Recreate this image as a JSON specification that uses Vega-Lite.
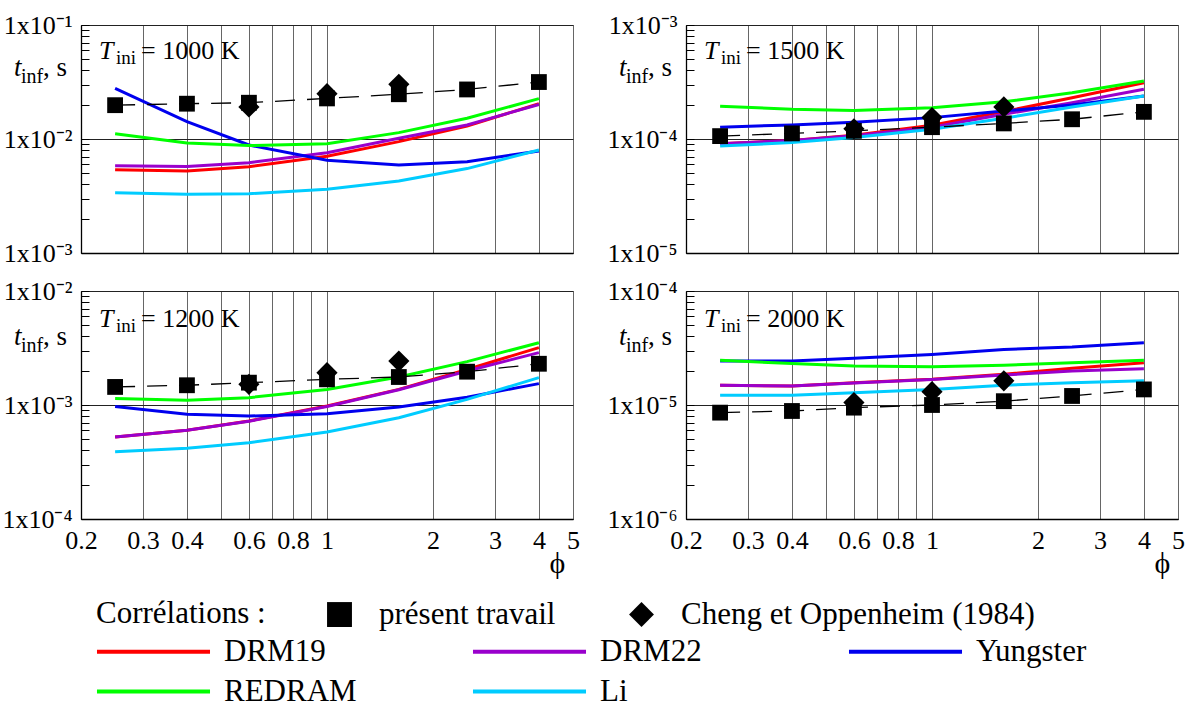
{
  "$schema": "https://vega.github.io/schema/vega-lite/v6.json",
  "background": "white",
  "padding": {"left": 1, "top": 11, "right": 0, "bottom": 0},
  "config": {
    "font": "Liberation Serif",
    "view": {"stroke": "#777", "strokeWidth": 1},
    "axis": {"labelFont": "Liberation Serif", "titleFont": "Liberation Serif", "labelColor": "black", "titleColor": "black"},
    "legend": {"labelFont": "Liberation Serif", "titleFont": "Liberation Serif", "labelColor": "black", "titleColor": "black", "padding": 0, "offset": 0}
  },
  "datasets": {
    "curves": [
      {"T":1000,"model":"DRM19","phi":0.25,"t":0.00538},{"T":1000,"model":"DRM19","phi":0.4,"t":0.00524},{"T":1000,"model":"DRM19","phi":0.6,"t":0.00572},{"T":1000,"model":"DRM19","phi":1,"t":0.00705},{"T":1000,"model":"DRM19","phi":1.6,"t":0.00948},{"T":1000,"model":"DRM19","phi":2.5,"t":0.0130},{"T":1000,"model":"DRM19","phi":4,"t":0.0204},
      {"T":1000,"model":"DRM22","phi":0.25,"t":0.00583},{"T":1000,"model":"DRM22","phi":0.4,"t":0.00575},{"T":1000,"model":"DRM22","phi":0.6,"t":0.0062},{"T":1000,"model":"DRM22","phi":1,"t":0.00759},{"T":1000,"model":"DRM22","phi":1.6,"t":0.01014},{"T":1000,"model":"DRM22","phi":2.5,"t":0.01327},{"T":1000,"model":"DRM22","phi":4,"t":0.0201},
      {"T":1000,"model":"Yungster","phi":0.25,"t":0.0278},{"T":1000,"model":"Yungster","phi":0.4,"t":0.0142},{"T":1000,"model":"Yungster","phi":0.6,"t":0.00886},{"T":1000,"model":"Yungster","phi":1,"t":0.0065},{"T":1000,"model":"Yungster","phi":1.6,"t":0.00591},{"T":1000,"model":"Yungster","phi":2.5,"t":0.00632},{"T":1000,"model":"Yungster","phi":4,"t":0.00785},
      {"T":1000,"model":"REDRAM","phi":0.25,"t":0.01114},{"T":1000,"model":"REDRAM","phi":0.4,"t":0.00923},{"T":1000,"model":"REDRAM","phi":0.6,"t":0.00875},{"T":1000,"model":"REDRAM","phi":1,"t":0.0091},{"T":1000,"model":"REDRAM","phi":1.6,"t":0.01137},{"T":1000,"model":"REDRAM","phi":2.5,"t":0.0152},{"T":1000,"model":"REDRAM","phi":4,"t":0.0226},
      {"T":1000,"model":"Li","phi":0.25,"t":0.00338},{"T":1000,"model":"Li","phi":0.4,"t":0.00327},{"T":1000,"model":"Li","phi":0.6,"t":0.00331},{"T":1000,"model":"Li","phi":1,"t":0.00362},{"T":1000,"model":"Li","phi":1.6,"t":0.00428},{"T":1000,"model":"Li","phi":2.5,"t":0.0055},{"T":1000,"model":"Li","phi":4,"t":0.0080},

      {"T":1500,"model":"DRM19","phi":0.25,"t":9.1e-5},{"T":1500,"model":"DRM19","phi":0.4,"t":9.7e-5},{"T":1500,"model":"DRM19","phi":0.6,"t":1.08e-4},{"T":1500,"model":"DRM19","phi":1,"t":1.32e-4},{"T":1500,"model":"DRM19","phi":1.6,"t":1.74e-4},{"T":1500,"model":"DRM19","phi":2.5,"t":2.30e-4},{"T":1500,"model":"DRM19","phi":4,"t":3.12e-4},
      {"T":1500,"model":"DRM22","phi":0.25,"t":9.1e-5},{"T":1500,"model":"DRM22","phi":0.4,"t":9.7e-5},{"T":1500,"model":"DRM22","phi":0.6,"t":1.07e-4},{"T":1500,"model":"DRM22","phi":1,"t":1.27e-4},{"T":1500,"model":"DRM22","phi":1.6,"t":1.65e-4},{"T":1500,"model":"DRM22","phi":2.5,"t":2.08e-4},{"T":1500,"model":"DRM22","phi":4,"t":2.73e-4},
      {"T":1500,"model":"Yungster","phi":0.25,"t":1.27e-4},{"T":1500,"model":"Yungster","phi":0.4,"t":1.33e-4},{"T":1500,"model":"Yungster","phi":0.6,"t":1.40e-4},{"T":1500,"model":"Yungster","phi":1,"t":1.54e-4},{"T":1500,"model":"Yungster","phi":1.6,"t":1.76e-4},{"T":1500,"model":"Yungster","phi":2.5,"t":1.99e-4},{"T":1500,"model":"Yungster","phi":4,"t":2.38e-4},
      {"T":1500,"model":"REDRAM","phi":0.25,"t":1.94e-4},{"T":1500,"model":"REDRAM","phi":0.4,"t":1.82e-4},{"T":1500,"model":"REDRAM","phi":0.6,"t":1.78e-4},{"T":1500,"model":"REDRAM","phi":1,"t":1.88e-4},{"T":1500,"model":"REDRAM","phi":1.6,"t":2.12e-4},{"T":1500,"model":"REDRAM","phi":2.5,"t":2.55e-4},{"T":1500,"model":"REDRAM","phi":4,"t":3.23e-4},
      {"T":1500,"model":"Li","phi":0.25,"t":8.7e-5},{"T":1500,"model":"Li","phi":0.4,"t":9.3e-5},{"T":1500,"model":"Li","phi":0.6,"t":1.03e-4},{"T":1500,"model":"Li","phi":1,"t":1.22e-4},{"T":1500,"model":"Li","phi":1.6,"t":1.52e-4},{"T":1500,"model":"Li","phi":2.5,"t":1.91e-4},{"T":1500,"model":"Li","phi":4,"t":2.38e-4},

      {"T":1200,"model":"DRM19","phi":0.25,"t":5.24e-4},{"T":1200,"model":"DRM19","phi":0.4,"t":6.0e-4},{"T":1200,"model":"DRM19","phi":0.6,"t":7.24e-4},{"T":1200,"model":"DRM19","phi":1,"t":9.8e-4},{"T":1200,"model":"DRM19","phi":1.6,"t":1.37e-3},{"T":1200,"model":"DRM19","phi":2.5,"t":2.05e-3},{"T":1200,"model":"DRM19","phi":4,"t":3.19e-3},
      {"T":1200,"model":"DRM22","phi":0.25,"t":5.24e-4},{"T":1200,"model":"DRM22","phi":0.4,"t":6.0e-4},{"T":1200,"model":"DRM22","phi":0.6,"t":7.2e-4},{"T":1200,"model":"DRM22","phi":1,"t":9.7e-4},{"T":1200,"model":"DRM22","phi":1.6,"t":1.36e-3},{"T":1200,"model":"DRM22","phi":2.5,"t":1.99e-3},{"T":1200,"model":"DRM22","phi":4,"t":2.88e-3},
      {"T":1200,"model":"Yungster","phi":0.25,"t":9.7e-4},{"T":1200,"model":"Yungster","phi":0.4,"t":8.3e-4},{"T":1200,"model":"Yungster","phi":0.6,"t":8.0e-4},{"T":1200,"model":"Yungster","phi":1,"t":8.4e-4},{"T":1200,"model":"Yungster","phi":1.6,"t":9.6e-4},{"T":1200,"model":"Yungster","phi":2.5,"t":1.17e-3},{"T":1200,"model":"Yungster","phi":4,"t":1.54e-3},
      {"T":1200,"model":"REDRAM","phi":0.25,"t":1.14e-3},{"T":1200,"model":"REDRAM","phi":0.4,"t":1.10e-3},{"T":1200,"model":"REDRAM","phi":0.6,"t":1.16e-3},{"T":1200,"model":"REDRAM","phi":1,"t":1.37e-3},{"T":1200,"model":"REDRAM","phi":1.6,"t":1.76e-3},{"T":1200,"model":"REDRAM","phi":2.5,"t":2.40e-3},{"T":1200,"model":"REDRAM","phi":4,"t":3.52e-3},
      {"T":1200,"model":"Li","phi":0.25,"t":3.89e-4},{"T":1200,"model":"Li","phi":0.4,"t":4.17e-4},{"T":1200,"model":"Li","phi":0.6,"t":4.67e-4},{"T":1200,"model":"Li","phi":1,"t":5.79e-4},{"T":1200,"model":"Li","phi":1.6,"t":7.74e-4},{"T":1200,"model":"Li","phi":2.5,"t":1.12e-3},{"T":1200,"model":"Li","phi":4,"t":1.74e-3},

      {"T":2000,"model":"DRM19","phi":0.25,"t":1.49e-5},{"T":2000,"model":"DRM19","phi":0.4,"t":1.47e-5},{"T":2000,"model":"DRM19","phi":0.6,"t":1.57e-5},{"T":2000,"model":"DRM19","phi":1,"t":1.68e-5},{"T":2000,"model":"DRM19","phi":1.6,"t":1.86e-5},{"T":2000,"model":"DRM19","phi":2.5,"t":2.10e-5},{"T":2000,"model":"DRM19","phi":4,"t":2.35e-5},
      {"T":2000,"model":"DRM22","phi":0.25,"t":1.49e-5},{"T":2000,"model":"DRM22","phi":0.4,"t":1.47e-5},{"T":2000,"model":"DRM22","phi":0.6,"t":1.56e-5},{"T":2000,"model":"DRM22","phi":1,"t":1.67e-5},{"T":2000,"model":"DRM22","phi":1.6,"t":1.83e-5},{"T":2000,"model":"DRM22","phi":2.5,"t":1.99e-5},{"T":2000,"model":"DRM22","phi":4,"t":2.08e-5},
      {"T":2000,"model":"Yungster","phi":0.25,"t":2.43e-5},{"T":2000,"model":"Yungster","phi":0.4,"t":2.43e-5},{"T":2000,"model":"Yungster","phi":0.6,"t":2.57e-5},{"T":2000,"model":"Yungster","phi":1,"t":2.78e-5},{"T":2000,"model":"Yungster","phi":1.6,"t":3.07e-5},{"T":2000,"model":"Yungster","phi":2.5,"t":3.23e-5},{"T":2000,"model":"Yungster","phi":4,"t":3.52e-5},
      {"T":2000,"model":"REDRAM","phi":0.25,"t":2.47e-5},{"T":2000,"model":"REDRAM","phi":0.4,"t":2.31e-5},{"T":2000,"model":"REDRAM","phi":0.6,"t":2.20e-5},{"T":2000,"model":"REDRAM","phi":1,"t":2.17e-5},{"T":2000,"model":"REDRAM","phi":1.6,"t":2.23e-5},{"T":2000,"model":"REDRAM","phi":2.5,"t":2.35e-5},{"T":2000,"model":"REDRAM","phi":4,"t":2.47e-5},
      {"T":2000,"model":"Li","phi":0.25,"t":1.22e-5},{"T":2000,"model":"Li","phi":0.4,"t":1.22e-5},{"T":2000,"model":"Li","phi":0.6,"t":1.28e-5},{"T":2000,"model":"Li","phi":1,"t":1.37e-5},{"T":2000,"model":"Li","phi":1.6,"t":1.49e-5},{"T":2000,"model":"Li","phi":2.5,"t":1.57e-5},{"T":2000,"model":"Li","phi":4,"t":1.63e-5}
    ],
    "points": [
      {"T":1000,"series":"présent travail","phi":0.25,"t":0.0198},{"T":1000,"series":"présent travail","phi":0.4,"t":0.0204},{"T":1000,"series":"présent travail","phi":0.6,"t":0.0208},{"T":1000,"series":"présent travail","phi":1,"t":0.0227},{"T":1000,"series":"présent travail","phi":1.6,"t":0.0247},{"T":1000,"series":"présent travail","phi":2.5,"t":0.0272},{"T":1000,"series":"présent travail","phi":4,"t":0.0316},
      {"T":1000,"series":"Cheng et Oppenheim (1984)","phi":0.6,"t":0.0191},{"T":1000,"series":"Cheng et Oppenheim (1984)","phi":1,"t":0.025},{"T":1000,"series":"Cheng et Oppenheim (1984)","phi":1.6,"t":0.0302},
      {"T":1500,"series":"présent travail","phi":0.25,"t":1.06e-4},{"T":1500,"series":"présent travail","phi":0.4,"t":1.12e-4},{"T":1500,"series":"présent travail","phi":0.6,"t":1.18e-4},{"T":1500,"series":"présent travail","phi":1,"t":1.27e-4},{"T":1500,"series":"présent travail","phi":1.6,"t":1.37e-4},{"T":1500,"series":"présent travail","phi":2.5,"t":1.49e-4},{"T":1500,"series":"présent travail","phi":4,"t":1.73e-4},
      {"T":1500,"series":"Cheng et Oppenheim (1984)","phi":0.6,"t":1.23e-4},{"T":1500,"series":"Cheng et Oppenheim (1984)","phi":1,"t":1.54e-4},{"T":1500,"series":"Cheng et Oppenheim (1984)","phi":1.6,"t":1.91e-4},
      {"T":1200,"series":"présent travail","phi":0.25,"t":1.44e-3},{"T":1200,"series":"présent travail","phi":0.4,"t":1.49e-3},{"T":1200,"series":"présent travail","phi":0.6,"t":1.57e-3},{"T":1200,"series":"présent travail","phi":1,"t":1.68e-3},{"T":1200,"series":"présent travail","phi":1.6,"t":1.76e-3},{"T":1200,"series":"présent travail","phi":2.5,"t":1.96e-3},{"T":1200,"series":"présent travail","phi":4,"t":2.30e-3},
      {"T":1200,"series":"Cheng et Oppenheim (1984)","phi":0.6,"t":1.52e-3},{"T":1200,"series":"Cheng et Oppenheim (1984)","phi":1,"t":1.92e-3},{"T":1200,"series":"Cheng et Oppenheim (1984)","phi":1.6,"t":2.43e-3},
      {"T":2000,"series":"présent travail","phi":0.25,"t":8.57e-6},{"T":2000,"series":"présent travail","phi":0.4,"t":8.86e-6},{"T":2000,"series":"présent travail","phi":0.6,"t":9.48e-6},{"T":2000,"series":"présent travail","phi":1,"t":1.0e-5},{"T":2000,"series":"présent travail","phi":1.6,"t":1.08e-5},{"T":2000,"series":"présent travail","phi":2.5,"t":1.2e-5},{"T":2000,"series":"présent travail","phi":4,"t":1.37e-5},
      {"T":2000,"series":"Cheng et Oppenheim (1984)","phi":0.6,"t":1.05e-5},{"T":2000,"series":"Cheng et Oppenheim (1984)","phi":1,"t":1.31e-5},{"T":2000,"series":"Cheng et Oppenheim (1984)","phi":1.6,"t":1.63e-5}
    ],
    "labels": [
      {"T":1000,"label":"= 1000 K"},{"T":1500,"label":"= 1500 K"},{"T":1200,"label":"= 1200 K"},{"T":2000,"label":"= 2000 K"}
    ]
  },
  "columns": 2,
  "bounds": "flush",
  "spacing": {"row": 38, "column": 113},
  "resolve": {"scale": {"x": "independent", "y": "independent", "color": "shared", "shape": "shared"}, "legend": {"color": "shared", "shape": "shared"}},
  "concat": [
    {
      "width": 492, "height": 228,
      "layer": [
        {"data": {"name": "curves"}, "transform": [{"filter": "datum.T == 1000"}],
         "mark": {"type": "line", "strokeWidth": 3},
         "encoding": {
           "x": {"field": "phi", "type": "quantitative", "scale": {"type": "log", "domain": [0.2, 5], "nice": false},
                 "axis": {"values": [0.2,0.3,0.4,0.5,0.6,0.7,0.8,0.9,1,2,3,4,5], "labels": false, "ticks": false, "grid": true, "gridColor": "#666", "domainColor": "black", "domainWidth": 1.3, "title": null}},
           "y": {"field": "t", "type": "quantitative", "scale": {"type": "log", "domain": [0.001, 0.1], "nice": false},
                 "axis": {"values": [0.001,0.002,0.003,0.004,0.005,0.006,0.007,0.008,0.009,0.01,0.02,0.03,0.04,0.05,0.06,0.07,0.08,0.09,0.1],
                          "labelExpr": "abs(log(datum.value)/LN10 - round(log(datum.value)/LN10)) < 0.001 ? '1x10⁻' + substring('⁰¹²³⁴⁵⁶⁷⁸⁹', -round(log(datum.value)/LN10), -round(log(datum.value)/LN10) + 1) : ''",
                          "tickSize": -8, "tickColor": "black", "domainColor": "black", "domainWidth": 1.3, "grid": true, "gridColor": "#222",
                          "gridOpacity": {"condition": {"test": "abs(log(datum.value)/LN10 - round(log(datum.value)/LN10)) < 0.001", "value": 1}, "value": 0},
                          "labelFontSize": 26, "labelPadding": 17, "labelFlush": false, "labelOverlap": false, "labelBound": false, "labelBaseline": "middle", "title": null}},
           "color": {"field": "model", "type": "nominal",
                     "scale": {"domain": ["DRM19","DRM22","Yungster","REDRAM","Li"], "range": ["#ff0000","#9900cc","#0000ee","#00ff00","#00ccff"]},
                     "legend": {"orient": "none", "legendX": 57, "legendY": 611, "columns": 3, "direction": "horizontal", "title": null, "symbolType": "M-5,0L5,0", "symbolSize": 511, "symbolStrokeWidth": 4, "labelFontSize": 31, "labelOffset": 55, "columnPadding": 107, "rowPadding": 8, "gridAlign": "all", "labelLimit": 400}}
         }},
        {"data": {"name": "points"}, "transform": [{"filter": "datum.T == 1000 && datum.series == 'présent travail'"}],
         "mark": {"type": "line", "color": "black", "strokeWidth": 1.3, "strokeDash": [20, 12]},
         "encoding": {"x": {"field": "phi", "type": "quantitative"}, "y": {"field": "t", "type": "quantitative"}}},
        {"data": {"name": "points"}, "transform": [{"filter": "datum.T == 1000 && datum.series == 'présent travail'"}],
         "mark": {"type": "point", "filled": true, "color": "black", "opacity": 1, "size": 250},
         "encoding": {"x": {"field": "phi", "type": "quantitative"}, "y": {"field": "t", "type": "quantitative"},
           "shape": {"field": "series", "type": "nominal", "scale": {"domain": ["présent travail", "Cheng et Oppenheim (1984)"], "range": ["square", "diamond"]},
                     "legend": {"orient": "none", "legendX": 15, "legendY": 574, "direction": "horizontal", "title": "Corrélations :", "titleOrient": "left", "titleFontSize": 31, "titleFontWeight": "normal", "titlePadding": 58, "labelFontSize": 31, "labelOffset": 24, "columnPadding": 70, "symbolSize": 620, "symbolFillColor": "black", "symbolStrokeColor": "black", "symbolOpacity": 1, "labelLimit": 500}}}},
        {"data": {"name": "points"}, "transform": [{"filter": "datum.T == 1000 && datum.series != 'présent travail'"}],
         "mark": {"type": "point", "filled": true, "color": "black", "opacity": 1, "size": 450},
         "encoding": {"x": {"field": "phi", "type": "quantitative"}, "y": {"field": "t", "type": "quantitative"}, "shape": {"field": "series", "type": "nominal"}}},
        {"data": {"name": "labels"}, "transform": [{"filter": "datum.T == 1000"}],
         "mark": {"type": "text", "text": "T", "fontStyle": "italic", "fontSize": 26, "align": "left", "baseline": "alphabetic", "dx": 18, "dy": 34},
         "encoding": {"x": {"datum": 0.2}, "y": {"datum": 0.1}}},
        {"data": {"name": "labels"}, "transform": [{"filter": "datum.T == 1000"}],
         "mark": {"type": "text", "text": "ini", "fontSize": 19, "align": "left", "baseline": "alphabetic", "dx": 35, "dy": 39},
         "encoding": {"x": {"datum": 0.2}, "y": {"datum": 0.1}}},
        {"data": {"name": "labels"}, "transform": [{"filter": "datum.T == 1000"}],
         "mark": {"type": "text", "fontSize": 26, "align": "left", "baseline": "alphabetic", "dx": 60, "dy": 34},
         "encoding": {"x": {"datum": 0.2}, "y": {"datum": 0.1}, "text": {"field": "label"}}},
        {"data": {"name": "labels"}, "transform": [{"filter": "datum.T == 1000"}],
         "mark": {"type": "text", "text": "t", "fontStyle": "italic", "fontSize": 27, "align": "left", "baseline": "alphabetic", "dx": -67, "dy": 51},
         "encoding": {"x": {"datum": 0.2}, "y": {"datum": 0.1}}},
        {"data": {"name": "labels"}, "transform": [{"filter": "datum.T == 1000"}],
         "mark": {"type": "text", "text": "inf", "fontSize": 20, "align": "left", "baseline": "alphabetic", "dx": -60, "dy": 58},
         "encoding": {"x": {"datum": 0.2}, "y": {"datum": 0.1}}},
        {"data": {"name": "labels"}, "transform": [{"filter": "datum.T == 1000"}],
         "mark": {"type": "text", "text": ", s", "fontSize": 27, "align": "left", "baseline": "alphabetic", "dx": -38, "dy": 51},
         "encoding": {"x": {"datum": 0.2}, "y": {"datum": 0.1}}}
      ]
    },
    {
      "width": 492, "height": 228,
      "layer": [
        {"data": {"name": "curves"}, "transform": [{"filter": "datum.T == 1500"}],
         "mark": {"type": "line", "strokeWidth": 3},
         "encoding": {
           "x": {"field": "phi", "type": "quantitative", "scale": {"type": "log", "domain": [0.2, 5], "nice": false},
                 "axis": {"values": [0.2,0.3,0.4,0.5,0.6,0.7,0.8,0.9,1,2,3,4,5], "labels": false, "ticks": false, "grid": true, "gridColor": "#666", "domainColor": "black", "domainWidth": 1.3, "title": null}},
           "y": {"field": "t", "type": "quantitative", "scale": {"type": "log", "domain": [1e-5, 1e-3], "nice": false},
                 "axis": {"values": [1e-5,2e-5,3e-5,4e-5,5e-5,6e-5,7e-5,8e-5,9e-5,1e-4,2e-4,3e-4,4e-4,5e-4,6e-4,7e-4,8e-4,9e-4,1e-3],
                          "labelExpr": "abs(log(datum.value)/LN10 - round(log(datum.value)/LN10)) < 0.001 ? '1x10⁻' + substring('⁰¹²³⁴⁵⁶⁷⁸⁹', -round(log(datum.value)/LN10), -round(log(datum.value)/LN10) + 1) : ''",
                          "tickSize": -8, "tickColor": "black", "domainColor": "black", "domainWidth": 1.3, "grid": true, "gridColor": "#222",
                          "gridOpacity": {"condition": {"test": "abs(log(datum.value)/LN10 - round(log(datum.value)/LN10)) < 0.001", "value": 1}, "value": 0},
                          "labelFontSize": 26, "labelPadding": 17, "labelFlush": false, "labelOverlap": false, "labelBound": false, "labelBaseline": "middle", "title": null}},
           "color": {"field": "model", "type": "nominal",
                     "scale": {"domain": ["DRM19","DRM22","Yungster","REDRAM","Li"], "range": ["#ff0000","#9900cc","#0000ee","#00ff00","#00ccff"]},
                     "legend": {"orient": "none", "legendX": 57, "legendY": 611, "columns": 3, "direction": "horizontal", "title": null, "symbolType": "M-5,0L5,0", "symbolSize": 511, "symbolStrokeWidth": 4, "labelFontSize": 31, "labelOffset": 55, "columnPadding": 107, "rowPadding": 8, "gridAlign": "all", "labelLimit": 400}}
         }},
        {"data": {"name": "points"}, "transform": [{"filter": "datum.T == 1500 && datum.series == 'présent travail'"}],
         "mark": {"type": "line", "color": "black", "strokeWidth": 1.3, "strokeDash": [20, 12]},
         "encoding": {"x": {"field": "phi", "type": "quantitative"}, "y": {"field": "t", "type": "quantitative"}}},
        {"data": {"name": "points"}, "transform": [{"filter": "datum.T == 1500 && datum.series == 'présent travail'"}],
         "mark": {"type": "point", "filled": true, "color": "black", "opacity": 1, "size": 250},
         "encoding": {"x": {"field": "phi", "type": "quantitative"}, "y": {"field": "t", "type": "quantitative"}, "shape": {"field": "series", "type": "nominal"}}},
        {"data": {"name": "points"}, "transform": [{"filter": "datum.T == 1500 && datum.series != 'présent travail'"}],
         "mark": {"type": "point", "filled": true, "color": "black", "opacity": 1, "size": 450},
         "encoding": {"x": {"field": "phi", "type": "quantitative"}, "y": {"field": "t", "type": "quantitative"}, "shape": {"field": "series", "type": "nominal"}}},
        {"data": {"name": "labels"}, "transform": [{"filter": "datum.T == 1500"}],
         "mark": {"type": "text", "text": "T", "fontStyle": "italic", "fontSize": 26, "align": "left", "baseline": "alphabetic", "dx": 18, "dy": 34},
         "encoding": {"x": {"datum": 0.2}, "y": {"datum": 0.001}}},
        {"data": {"name": "labels"}, "transform": [{"filter": "datum.T == 1500"}],
         "mark": {"type": "text", "text": "ini", "fontSize": 19, "align": "left", "baseline": "alphabetic", "dx": 35, "dy": 39},
         "encoding": {"x": {"datum": 0.2}, "y": {"datum": 0.001}}},
        {"data": {"name": "labels"}, "transform": [{"filter": "datum.T == 1500"}],
         "mark": {"type": "text", "fontSize": 26, "align": "left", "baseline": "alphabetic", "dx": 60, "dy": 34},
         "encoding": {"x": {"datum": 0.2}, "y": {"datum": 0.001}, "text": {"field": "label"}}},
        {"data": {"name": "labels"}, "transform": [{"filter": "datum.T == 1500"}],
         "mark": {"type": "text", "text": "t", "fontStyle": "italic", "fontSize": 27, "align": "left", "baseline": "alphabetic", "dx": -67, "dy": 51},
         "encoding": {"x": {"datum": 0.2}, "y": {"datum": 0.001}}},
        {"data": {"name": "labels"}, "transform": [{"filter": "datum.T == 1500"}],
         "mark": {"type": "text", "text": "inf", "fontSize": 20, "align": "left", "baseline": "alphabetic", "dx": -60, "dy": 58},
         "encoding": {"x": {"datum": 0.2}, "y": {"datum": 0.001}}},
        {"data": {"name": "labels"}, "transform": [{"filter": "datum.T == 1500"}],
         "mark": {"type": "text", "text": ", s", "fontSize": 27, "align": "left", "baseline": "alphabetic", "dx": -38, "dy": 51},
         "encoding": {"x": {"datum": 0.2}, "y": {"datum": 0.001}}}
      ]
    },
    {
      "width": 492, "height": 228,
      "layer": [
        {"data": {"name": "curves"}, "transform": [{"filter": "datum.T == 1200"}],
         "mark": {"type": "line", "strokeWidth": 3},
         "encoding": {
           "x": {"field": "phi", "type": "quantitative", "scale": {"type": "log", "domain": [0.2, 5], "nice": false},
                 "axis": {"values": [0.2,0.3,0.4,0.5,0.6,0.7,0.8,0.9,1,2,3,4,5],
                          "labelExpr": "(datum.value == 0.5 || datum.value == 0.7 || datum.value == 0.9) ? '' : format(datum.value, '~g')",
                          "ticks": false, "grid": true, "gridColor": "#666", "domainColor": "black", "domainWidth": 1.3,
                          "labelFontSize": 26, "labelPadding": 8, "labelFlush": false, "labelOverlap": false, "labelBound": false,
                          "title": "ϕ", "titleFontSize": 30, "titleFontWeight": "normal", "titleX": 476, "titleY": 53, "titleAlign": "center", "titleBaseline": "alphabetic", "titleAngle": 0}},
           "y": {"field": "t", "type": "quantitative", "scale": {"type": "log", "domain": [1e-4, 1e-2], "nice": false},
                 "axis": {"values": [1e-4,2e-4,3e-4,4e-4,5e-4,6e-4,7e-4,8e-4,9e-4,1e-3,2e-3,3e-3,4e-3,5e-3,6e-3,7e-3,8e-3,9e-3,1e-2],
                          "labelExpr": "abs(log(datum.value)/LN10 - round(log(datum.value)/LN10)) < 0.001 ? '1x10⁻' + substring('⁰¹²³⁴⁵⁶⁷⁸⁹', -round(log(datum.value)/LN10), -round(log(datum.value)/LN10) + 1) : ''",
                          "tickSize": -8, "tickColor": "black", "domainColor": "black", "domainWidth": 1.3, "grid": true, "gridColor": "#222",
                          "gridOpacity": {"condition": {"test": "abs(log(datum.value)/LN10 - round(log(datum.value)/LN10)) < 0.001", "value": 1}, "value": 0},
                          "labelFontSize": 26, "labelPadding": 17, "labelFlush": false, "labelOverlap": false, "labelBound": false, "labelBaseline": "middle", "title": null}},
           "color": {"field": "model", "type": "nominal",
                     "scale": {"domain": ["DRM19","DRM22","Yungster","REDRAM","Li"], "range": ["#ff0000","#9900cc","#0000ee","#00ff00","#00ccff"]},
                     "legend": {"orient": "none", "legendX": 57, "legendY": 611, "columns": 3, "direction": "horizontal", "title": null, "symbolType": "M-5,0L5,0", "symbolSize": 511, "symbolStrokeWidth": 4, "labelFontSize": 31, "labelOffset": 55, "columnPadding": 107, "rowPadding": 8, "gridAlign": "all", "labelLimit": 400}}
         }},
        {"data": {"name": "points"}, "transform": [{"filter": "datum.T == 1200 && datum.series == 'présent travail'"}],
         "mark": {"type": "line", "color": "black", "strokeWidth": 1.3, "strokeDash": [20, 12]},
         "encoding": {"x": {"field": "phi", "type": "quantitative"}, "y": {"field": "t", "type": "quantitative"}}},
        {"data": {"name": "points"}, "transform": [{"filter": "datum.T == 1200 && datum.series == 'présent travail'"}],
         "mark": {"type": "point", "filled": true, "color": "black", "opacity": 1, "size": 250},
         "encoding": {"x": {"field": "phi", "type": "quantitative"}, "y": {"field": "t", "type": "quantitative"}, "shape": {"field": "series", "type": "nominal"}}},
        {"data": {"name": "points"}, "transform": [{"filter": "datum.T == 1200 && datum.series != 'présent travail'"}],
         "mark": {"type": "point", "filled": true, "color": "black", "opacity": 1, "size": 450},
         "encoding": {"x": {"field": "phi", "type": "quantitative"}, "y": {"field": "t", "type": "quantitative"}, "shape": {"field": "series", "type": "nominal"}}},
        {"data": {"name": "labels"}, "transform": [{"filter": "datum.T == 1200"}],
         "mark": {"type": "text", "text": "T", "fontStyle": "italic", "fontSize": 26, "align": "left", "baseline": "alphabetic", "dx": 18, "dy": 36},
         "encoding": {"x": {"datum": 0.2}, "y": {"datum": 0.01}}},
        {"data": {"name": "labels"}, "transform": [{"filter": "datum.T == 1200"}],
         "mark": {"type": "text", "text": "ini", "fontSize": 19, "align": "left", "baseline": "alphabetic", "dx": 35, "dy": 41},
         "encoding": {"x": {"datum": 0.2}, "y": {"datum": 0.01}}},
        {"data": {"name": "labels"}, "transform": [{"filter": "datum.T == 1200"}],
         "mark": {"type": "text", "fontSize": 26, "align": "left", "baseline": "alphabetic", "dx": 60, "dy": 36},
         "encoding": {"x": {"datum": 0.2}, "y": {"datum": 0.01}, "text": {"field": "label"}}},
        {"data": {"name": "labels"}, "transform": [{"filter": "datum.T == 1200"}],
         "mark": {"type": "text", "text": "t", "fontStyle": "italic", "fontSize": 27, "align": "left", "baseline": "alphabetic", "dx": -67, "dy": 54},
         "encoding": {"x": {"datum": 0.2}, "y": {"datum": 0.01}}},
        {"data": {"name": "labels"}, "transform": [{"filter": "datum.T == 1200"}],
         "mark": {"type": "text", "text": "inf", "fontSize": 20, "align": "left", "baseline": "alphabetic", "dx": -60, "dy": 61},
         "encoding": {"x": {"datum": 0.2}, "y": {"datum": 0.01}}},
        {"data": {"name": "labels"}, "transform": [{"filter": "datum.T == 1200"}],
         "mark": {"type": "text", "text": ", s", "fontSize": 27, "align": "left", "baseline": "alphabetic", "dx": -38, "dy": 54},
         "encoding": {"x": {"datum": 0.2}, "y": {"datum": 0.01}}}
      ]
    },
    {
      "width": 492, "height": 228,
      "layer": [
        {"data": {"name": "curves"}, "transform": [{"filter": "datum.T == 2000"}],
         "mark": {"type": "line", "strokeWidth": 3},
         "encoding": {
           "x": {"field": "phi", "type": "quantitative", "scale": {"type": "log", "domain": [0.2, 5], "nice": false},
                 "axis": {"values": [0.2,0.3,0.4,0.5,0.6,0.7,0.8,0.9,1,2,3,4,5],
                          "labelExpr": "(datum.value == 0.5 || datum.value == 0.7 || datum.value == 0.9) ? '' : format(datum.value, '~g')",
                          "ticks": false, "grid": true, "gridColor": "#666", "domainColor": "black", "domainWidth": 1.3,
                          "labelFontSize": 26, "labelPadding": 8, "labelFlush": false, "labelOverlap": false, "labelBound": false,
                          "title": "ϕ", "titleFontSize": 30, "titleFontWeight": "normal", "titleX": 476, "titleY": 53, "titleAlign": "center", "titleBaseline": "alphabetic", "titleAngle": 0}},
           "y": {"field": "t", "type": "quantitative", "scale": {"type": "log", "domain": [1e-6, 1e-4], "nice": false},
                 "axis": {"values": [1e-6,2e-6,3e-6,4e-6,5e-6,6e-6,7e-6,8e-6,9e-6,1e-5,2e-5,3e-5,4e-5,5e-5,6e-5,7e-5,8e-5,9e-5,1e-4],
                          "labelExpr": "abs(log(datum.value)/LN10 - round(log(datum.value)/LN10)) < 0.001 ? '1x10⁻' + substring('⁰¹²³⁴⁵⁶⁷⁸⁹', -round(log(datum.value)/LN10), -round(log(datum.value)/LN10) + 1) : ''",
                          "tickSize": -8, "tickColor": "black", "domainColor": "black", "domainWidth": 1.3, "grid": true, "gridColor": "#222",
                          "gridOpacity": {"condition": {"test": "abs(log(datum.value)/LN10 - round(log(datum.value)/LN10)) < 0.001", "value": 1}, "value": 0},
                          "labelFontSize": 26, "labelPadding": 17, "labelFlush": false, "labelOverlap": false, "labelBound": false, "labelBaseline": "middle", "title": null}},
           "color": {"field": "model", "type": "nominal",
                     "scale": {"domain": ["DRM19","DRM22","Yungster","REDRAM","Li"], "range": ["#ff0000","#9900cc","#0000ee","#00ff00","#00ccff"]},
                     "legend": {"orient": "none", "legendX": 57, "legendY": 611, "columns": 3, "direction": "horizontal", "title": null, "symbolType": "M-5,0L5,0", "symbolSize": 511, "symbolStrokeWidth": 4, "labelFontSize": 31, "labelOffset": 55, "columnPadding": 107, "rowPadding": 8, "gridAlign": "all", "labelLimit": 400}}
         }},
        {"data": {"name": "points"}, "transform": [{"filter": "datum.T == 2000 && datum.series == 'présent travail'"}],
         "mark": {"type": "line", "color": "black", "strokeWidth": 1.3, "strokeDash": [20, 12]},
         "encoding": {"x": {"field": "phi", "type": "quantitative"}, "y": {"field": "t", "type": "quantitative"}}},
        {"data": {"name": "points"}, "transform": [{"filter": "datum.T == 2000 && datum.series == 'présent travail'"}],
         "mark": {"type": "point", "filled": true, "color": "black", "opacity": 1, "size": 250},
         "encoding": {"x": {"field": "phi", "type": "quantitative"}, "y": {"field": "t", "type": "quantitative"}, "shape": {"field": "series", "type": "nominal"}}},
        {"data": {"name": "points"}, "transform": [{"filter": "datum.T == 2000 && datum.series != 'présent travail'"}],
         "mark": {"type": "point", "filled": true, "color": "black", "opacity": 1, "size": 450},
         "encoding": {"x": {"field": "phi", "type": "quantitative"}, "y": {"field": "t", "type": "quantitative"}, "shape": {"field": "series", "type": "nominal"}}},
        {"data": {"name": "labels"}, "transform": [{"filter": "datum.T == 2000"}],
         "mark": {"type": "text", "text": "T", "fontStyle": "italic", "fontSize": 26, "align": "left", "baseline": "alphabetic", "dx": 18, "dy": 36},
         "encoding": {"x": {"datum": 0.2}, "y": {"datum": 0.0001}}},
        {"data": {"name": "labels"}, "transform": [{"filter": "datum.T == 2000"}],
         "mark": {"type": "text", "text": "ini", "fontSize": 19, "align": "left", "baseline": "alphabetic", "dx": 35, "dy": 41},
         "encoding": {"x": {"datum": 0.2}, "y": {"datum": 0.0001}}},
        {"data": {"name": "labels"}, "transform": [{"filter": "datum.T == 2000"}],
         "mark": {"type": "text", "fontSize": 26, "align": "left", "baseline": "alphabetic", "dx": 60, "dy": 36},
         "encoding": {"x": {"datum": 0.2}, "y": {"datum": 0.0001}, "text": {"field": "label"}}},
        {"data": {"name": "labels"}, "transform": [{"filter": "datum.T == 2000"}],
         "mark": {"type": "text", "text": "t", "fontStyle": "italic", "fontSize": 27, "align": "left", "baseline": "alphabetic", "dx": -67, "dy": 54},
         "encoding": {"x": {"datum": 0.2}, "y": {"datum": 0.0001}}},
        {"data": {"name": "labels"}, "transform": [{"filter": "datum.T == 2000"}],
         "mark": {"type": "text", "text": "inf", "fontSize": 20, "align": "left", "baseline": "alphabetic", "dx": -60, "dy": 61},
         "encoding": {"x": {"datum": 0.2}, "y": {"datum": 0.0001}}},
        {"data": {"name": "labels"}, "transform": [{"filter": "datum.T == 2000"}],
         "mark": {"type": "text", "text": ", s", "fontSize": 27, "align": "left", "baseline": "alphabetic", "dx": -38, "dy": 54},
         "encoding": {"x": {"datum": 0.2}, "y": {"datum": 0.0001}}}
      ]
    }
  ]
}
